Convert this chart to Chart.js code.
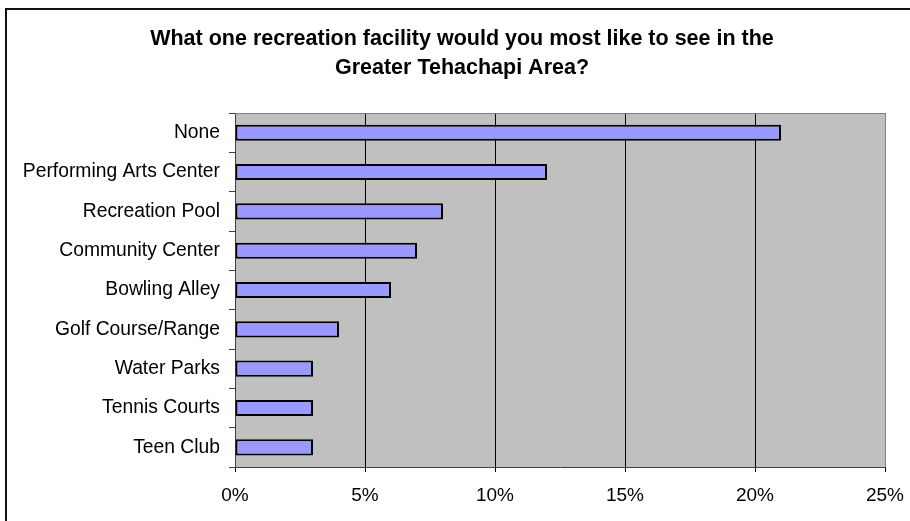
<!DOCTYPE html>
<html>
<head>
<meta charset="utf-8">
<script src="https://cdn.jsdelivr.net/npm/chart.js@4/dist/chart.umd.min.js"></script>
<style>
html,body{margin:0;padding:0;background:#fff;}
#c{display:block;}
</style>
</head>
<body>
<canvas id="c" width="910" height="521"></canvas>
<script>
const titleLines = ["What one recreation facility would you most like to see in the", "Greater Tehachapi Area?"];
const categories = ["None", "Performing Arts Center", "Recreation Pool", "Community Center", "Bowling Alley", "Golf Course/Range", "Water Parks", "Tennis Courts", "Teen Club"];
const percentValues = [21, 12, 8, 7, 6, 4, 3, 3, 3];
const xTickMax = 25;
const xTickStep = 5;

const FONT = "'Liberation Sans', Arial, Helvetica, sans-serif";

const plotBackground = {
  id: 'plotBackground',
  afterLayout(chart) {
    if (chart.titleBlock) {
      chart.titleBlock.left = 39;
    }
  },
  beforeDraw(chart) {
    const {ctx, chartArea: a} = chart;
    ctx.save();
    ctx.fillStyle = '#C0C0C0';
    ctx.fillRect(a.left, a.top, a.right - a.left, a.bottom - a.top);
    ctx.restore();
  },
  beforeDatasetsDraw(chart) {
    const {ctx, chartArea: a} = chart;
    ctx.save();
    ctx.strokeStyle = '#808080';
    ctx.lineWidth = 1;
    ctx.beginPath();
    ctx.moveTo(a.left, a.top + 0.5);
    ctx.lineTo(a.right + 0.5, a.top + 0.5);
    ctx.stroke();
    ctx.restore();
  },
  afterDraw(chart) {
    const {ctx} = chart;
    ctx.save();
    ctx.strokeStyle = '#111';
    ctx.lineWidth = 2;
    ctx.strokeRect(6, 9, 2000, 2000);
    ctx.restore();
  }
};

new Chart(document.getElementById('c'), {
  type: 'bar',
  data: {
    labels: categories,
    datasets: [{
      data: percentValues,
      backgroundColor: '#9999FF',
      borderColor: '#000000',
      borderWidth: 2,
      borderSkipped: false,
      categoryPercentage: 1,
      barPercentage: 0.41
    }]
  },
  options: {
    indexAxis: 'y',
    responsive: false,
    animation: false,
    devicePixelRatio: 1,
    layout: {padding: {top: 20, right: 25, bottom: 0, left: 0}},
    plugins: {
      legend: {display: false},
      tooltip: {enabled: false},
      title: {
        display: true,
        text: titleLines,
        color: '#000',
        font: {family: FONT, size: 21.5, weight: 'bold', lineHeight: 1.35},
        padding: {top: 5, bottom: 30}
      }
    },
    scales: {
      x: {
        min: 0,
        max: xTickMax,
        ticks: {
          stepSize: xTickStep,
          color: '#000',
          font: {family: FONT, size: 19},
          padding: 12,
          callback: v => v + '%'
        },
        grid: {
          color: ctx => (ctx.index === 0 ? 'rgba(0,0,0,0)' : (ctx.tick && ctx.tick.value === xTickMax ? '#808080' : '#000000')),
          tickColor: '#000',
          tickLength: 5,
          lineWidth: 1
        },
        border: {color: '#404040', width: 1},
        afterFit(s) { s.height = 54; s.paddingLeft = 0; s.paddingRight = 0; }
      },
      y: {
        ticks: {
          color: '#000',
          font: {family: FONT, size: 19.3},
          padding: 9
        },
        grid: {
          drawOnChartArea: false,
          offset: true,
          tickLength: 6,
          tickColor: '#404040'
        },
        border: {color: '#404040', width: 1},
        afterFit(s) { s.width = 235; s.paddingTop = 0; s.paddingBottom = 0; }
      }
    }
  },
  plugins: [plotBackground]
});
</script>
</body>
</html>
